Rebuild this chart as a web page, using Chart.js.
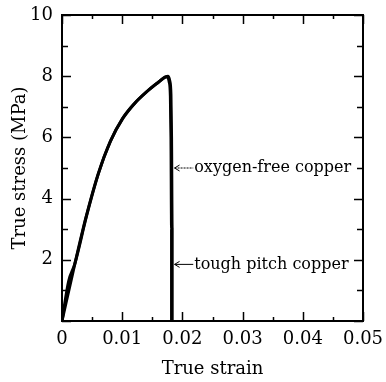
<!DOCTYPE html>
<html>
<head>
<meta charset="utf-8">
<script src="https://cdn.jsdelivr.net/npm/chart.js@4"></script>
<style>
  html, body { margin: 0; padding: 0; background: #fff; }
  #wrap { width: 386px; height: 382px; }
</style>
</head>
<body>
<div id="wrap"><canvas id="chart" width="386" height="382"></canvas></div>
<script>
'use strict';

// values
const oxygenFreeStrain = [0, 0.0020, 0.0040, 0.0060, 0.0080, 0.0100, 0.0120, 0.0140, 0.0160, 0.0172, 0.0176, 0.0179, 0.0181, 0.0182, 0.0183, 0.0183];
const oxygenFreeStress = [0, 1.75, 3.4, 4.8, 5.85, 6.6, 7.1, 7.48, 7.8, 7.98, 8.0, 7.85, 7.4, 6.0, 3.0, 0];
const toughPitchStrain = [0, 0.0011, 0.0021, 0.0041, 0.0061, 0.0081, 0.0101, 0.0121, 0.0141, 0.0161, 0.0171, 0.0175, 0.0178, 0.0180, 0.0181, 0.0182, 0.0182];
const toughPitchStress = [0, 1.3, 1.85, 3.45, 4.85, 5.9, 6.62, 7.12, 7.5, 7.82, 7.97, 7.98, 7.82, 7.35, 6.0, 3.0, 0];

const annotations = [
	{ label: 'oxygen-free copper', stress: 5.0, dashed: true },
	{ label: 'tough pitch copper', stress: 1.85, dashed: false },
];

const FONT = 'DejaVu Serif';

function toPoints(xs, ys) {
	return xs.map((x, i) => ({ x: x, y: ys[i] }));
}

function buildDataset(label, xs, ys) {
	return {
		label: label,
		data: toPoints(xs, ys),
		borderColor: '#000',
		borderWidth: 3,
		pointRadius: 0,
		cubicInterpolationMode: 'monotone',
		fill: false,
	};
}

//inward ticks on all four sides + frame + arrow labels
const framePlugin = {
	id: 'frame',
	afterDraw(chart) {
		const ctx = chart.ctx;
		const area = chart.chartArea;
		const xs = chart.scales.x;
		const ys = chart.scales.y;
		ctx.save();
		ctx.strokeStyle = '#000';
		ctx.lineWidth = 2;
		ctx.strokeRect(area.left, area.top, area.right - area.left, area.bottom - area.top);

		ctx.lineWidth = 1.5;
		for (let v = 0; v <= 0.05001; v += 0.005) {
			const px = Math.round(xs.getPixelForValue(v)) + 0.5;
			const major = Math.round(v * 1000) % 10 === 0;
			const len = major ? 9 : 4;
			ctx.beginPath();
			ctx.moveTo(px, area.bottom);
			ctx.lineTo(px, area.bottom - len);
			ctx.moveTo(px, area.top);
			ctx.lineTo(px, area.top + len);
			ctx.stroke();
		}
		for (let v = 0; v <= 10; v += 1) {
			const py = Math.round(ys.getPixelForValue(v)) + 0.5;
			const len = v % 2 === 0 ? 9 : 6;
			ctx.beginPath();
			ctx.moveTo(area.left, py);
			ctx.lineTo(area.left + len, py);
			ctx.moveTo(area.right, py);
			ctx.lineTo(area.right - len, py);
			ctx.stroke();
		}

		ctx.font = '16px "' + FONT + '"';
		ctx.fillStyle = '#000';
		ctx.textBaseline = 'middle';
		annotations.forEach((a) => {
			const py = ys.getPixelForValue(a.stress);
			const x0 = xs.getPixelForValue(0.0187);
			const x1 = xs.getPixelForValue(0.0218);
			ctx.lineWidth = 1;
			ctx.setLineDash(a.dashed ? [2, 1] : []);
			ctx.beginPath();
			ctx.moveTo(x0, py);
			ctx.lineTo(x1, py);
			ctx.stroke();
			ctx.setLineDash([]);
			ctx.beginPath();
			ctx.moveTo(x0 + 5, py - 3);
			ctx.lineTo(x0, py);
			ctx.lineTo(x0 + 5, py + 3);
			ctx.stroke();
			ctx.fillText(a.label, x1 + 1, py);
		});
		ctx.restore();
	},
};

function getX() {
	return {
		type: 'linear',
		min: 0,
		max: 0.05,
		grid: { display: false, drawTicks: false },
		border: { display: false },
		ticks: {
			stepSize: 0.01,
			color: '#000',
			padding: 8,
			maxRotation: 0,
			font: { family: FONT, size: 18 },
			callback: (v) => (Math.round(v * 100) / 100).toString(),
		},
		title: {
			display: true,
			text: 'True strain',
			color: '#000',
			padding: { top: 0, bottom: 2 },
			font: { family: FONT, size: 18 },
		},
		afterFit: (scale) => {
			scale.height = 61;
			scale.paddingLeft = 0;
			scale.paddingRight = 0;
		},
	};
}

function getY() {
	return {
		min: 0,
		max: 10,
		grid: { display: false, drawTicks: false },
		border: { display: false },
		ticks: {
			stepSize: 2,
			color: '#000',
			padding: 9,
			font: { family: FONT, size: 18 },
			callback: (v) => (v === 0 ? '' : v),
		},
		title: {
			display: true,
			text: 'True stress (MPa)',
			color: '#000',
			padding: { top: 10, bottom: 0 },
			font: { family: FONT, size: 18 },
		},
		afterFit: (scale) => {
			scale.width = 62;
			scale.paddingTop = 0;
			scale.paddingBottom = 0;
		},
	};
}

function makeChart() {
	const ctx = document.querySelector('#chart').getContext('2d');
	return new Chart(ctx, {
		type: 'line',
		data: {
			datasets: [
				buildDataset('oxygen-free copper', oxygenFreeStrain, oxygenFreeStress),
				buildDataset('tough pitch copper', toughPitchStrain, toughPitchStress),
			],
		},
		options: {
			responsive: false,
			animation: false,
			layout: { padding: { top: 15, right: 23, left: 0, bottom: 0 } },
			plugins: {
				legend: { display: false },
				tooltip: { enabled: false },
			},
			scales: {
				x: getX(),
				y: getY(),
			},
		},
		plugins: [framePlugin],
	});
}

makeChart();
</script>
</body>
</html>
